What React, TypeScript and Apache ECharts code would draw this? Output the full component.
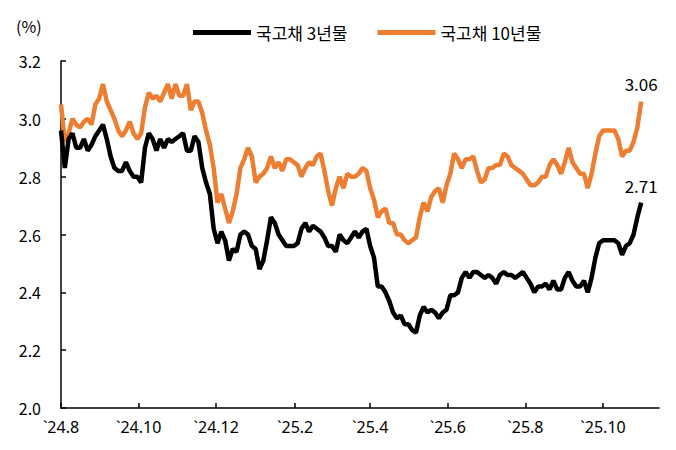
import React, { useEffect, useRef } from 'react';
import * as echarts from 'echarts';

// 3일 간격 관측치 (시작일 2024-08-01 기준 경과일 = index * STEP_DAYS)
const STEP_DAYS = 3;

const ktb10y = [
  3.05, 2.92, 2.95, 3.0, 2.98, 2.97, 2.99, 3.0, 2.98, 3.05,
  3.07, 3.12, 3.06, 3.03, 3.0, 2.96, 2.94, 2.96, 2.99, 2.95,
  2.93, 2.95, 3.04, 3.09, 3.07, 3.08, 3.06, 3.09, 3.12, 3.07,
  3.12, 3.08, 3.08, 3.12, 3.03, 3.06, 3.06, 3.02, 2.96, 2.91,
  2.83, 2.71, 2.74, 2.69, 2.64, 2.68, 2.74, 2.83, 2.86, 2.9,
  2.87, 2.78, 2.8, 2.81, 2.83, 2.87, 2.83, 2.85, 2.82, 2.86,
  2.86, 2.85, 2.84, 2.8, 2.83, 2.85, 2.84, 2.87, 2.88, 2.82,
  2.75, 2.7, 2.76, 2.8, 2.76, 2.81, 2.8, 2.8, 2.81, 2.83,
  2.82, 2.76, 2.72, 2.66, 2.68, 2.69, 2.64, 2.64, 2.6, 2.6,
  2.58, 2.57, 2.58, 2.59, 2.66, 2.71, 2.68, 2.73, 2.75, 2.76,
  2.71, 2.77, 2.81, 2.88, 2.86, 2.83, 2.86, 2.86, 2.87, 2.82,
  2.78, 2.79, 2.83, 2.83, 2.84, 2.84, 2.88, 2.87, 2.84, 2.83,
  2.82, 2.81, 2.79, 2.77, 2.77, 2.78, 2.8, 2.8, 2.84, 2.86,
  2.84, 2.81, 2.85, 2.9, 2.85, 2.83, 2.81, 2.81, 2.76, 2.81,
  2.88, 2.94, 2.96, 2.96, 2.96, 2.96, 2.93, 2.87, 2.89, 2.89,
  2.92, 2.97, 3.06,
];

const ktb3y = [
  2.96, 2.83, 2.93, 2.95, 2.9, 2.9, 2.93, 2.89, 2.91, 2.94,
  2.96, 2.98, 2.93, 2.87, 2.83, 2.82, 2.82, 2.85, 2.82, 2.8,
  2.8, 2.78, 2.9, 2.95, 2.93, 2.89, 2.93, 2.9, 2.93, 2.92,
  2.93, 2.94, 2.95, 2.89, 2.89, 2.94, 2.92, 2.83, 2.78, 2.74,
  2.62, 2.57, 2.61, 2.58, 2.51, 2.55, 2.54, 2.6, 2.61, 2.6,
  2.56, 2.55, 2.48, 2.51, 2.58, 2.66, 2.64, 2.6, 2.58, 2.56,
  2.56, 2.56, 2.57, 2.62, 2.64, 2.61, 2.63, 2.62, 2.61, 2.59,
  2.56, 2.56, 2.54, 2.6, 2.58, 2.57, 2.59, 2.61, 2.59, 2.61,
  2.62, 2.56, 2.52, 2.42, 2.42, 2.4, 2.37, 2.33, 2.31, 2.32,
  2.29, 2.29, 2.27, 2.26, 2.32, 2.35, 2.33, 2.34, 2.33, 2.31,
  2.33, 2.34, 2.39, 2.39, 2.4, 2.45, 2.47, 2.45, 2.47, 2.47,
  2.46, 2.45, 2.46, 2.45, 2.43, 2.46, 2.47, 2.46, 2.46, 2.45,
  2.46, 2.47, 2.45, 2.43, 2.4, 2.42, 2.42, 2.43, 2.41, 2.44,
  2.41, 2.41, 2.45, 2.47, 2.44, 2.42, 2.42, 2.44, 2.4, 2.45,
  2.52, 2.57, 2.58, 2.58, 2.58, 2.58, 2.57, 2.53, 2.56, 2.57,
  2.6, 2.66, 2.71,
];

// 눈금: 2024-08-01 기준 경과일
const tickDays = [0, 61, 122, 184, 243, 304, 365, 426];
const tickLabels = ['`24.8', '`24.10', '`24.12', '`25.2', '`25.4', '`25.6', '`25.8', '`25.10'];
const axisEndDay = 470;

const yTicks = [2.0, 2.2, 2.4, 2.6, 2.8, 3.0, 3.2];

const BLACK = '#000000';
const ORANGE = '#ED7D31';
const FONT = '"Noto Sans CJK KR", "Noto Sans", sans-serif';
const NUM_FONT = '"Noto Sans", "Noto Sans CJK KR", sans-serif';

function toSeries(values: number[]) {
  return values.map((v, i) => {
    const point: any = { value: [i * STEP_DAYS, v] };
    if (i === values.length - 1) {
      point.label = {
        show: true,
        position: 'top',
        distance: 9,
        formatter: v.toFixed(2),
        color: '#000',
        fontSize: 17,
        fontFamily: FONT,
      };
    }
    return point;
  });
}

export default function App() {
  const chartRef = useRef<HTMLDivElement>(null);

  useEffect(() => {
    if (!chartRef.current) return;
    const chart = echarts.init(chartRef.current, undefined, { renderer: 'svg' });

    chart.setOption({
      animation: false,
      backgroundColor: '#fff',
      textStyle: { fontFamily: FONT },
      grid: { left: 61, right: 17, top: 61, bottom: 42, containLabel: false },
      legend: {
        top: 19,
        left: 188,
        itemWidth: 58,
        itemHeight: 5,
        itemGap: 30,
        icon: 'rect',
        textStyle: { fontSize: 17, color: '#000', fontFamily: FONT },
        data: ['국고채 3년물', '국고채 10년물'],
      },
      graphic: [
        {
          type: 'text',
          left: 16,
          top: 18,
          style: { text: '(%)', fontSize: 16, fill: '#000', fontFamily: FONT },
        },
      ],
      xAxis: {
        type: 'value',
        min: 0,
        max: axisEndDay,
        axisLine: { show: true, lineStyle: { color: '#000', width: 1.5 } },
        axisTick: {
          show: true,
          inside: true,
          length: 5,
          customValues: tickDays,
          lineStyle: { color: '#000', width: 1.5 },
        },
        axisLabel: {
          customValues: tickDays,
          margin: 11,
          fontSize: 16,
          color: '#000',
          fontFamily: NUM_FONT,
          formatter: (v: number) => {
            const idx = tickDays.indexOf(v);
            return idx >= 0 ? tickLabels[idx] : '';
          },
        },
        splitLine: { show: false },
      },
      yAxis: {
        type: 'value',
        min: yTicks[0],
        max: yTicks[yTicks.length - 1],
        interval: 0.2,
        axisLine: { show: true, lineStyle: { color: '#000', width: 1.5 } },
        axisTick: { show: true, inside: true, length: 5, lineStyle: { color: '#000', width: 1.5 } },
        axisLabel: {
          margin: 20,
          fontSize: 16,
          color: '#000',
          fontFamily: FONT,
          formatter: (v: number) => v.toFixed(1),
        },
        splitLine: { show: false },
      },
      series: [
        {
          name: '국고채 10년물',
          type: 'line',
          data: toSeries(ktb10y),
          symbol: 'circle',
          symbolSize: 0,
          showSymbol: true,
          showAllSymbol: true,
          lineStyle: { color: ORANGE, width: 4.5 },
          itemStyle: { color: ORANGE },
          z: 2,
        },
        {
          name: '국고채 3년물',
          type: 'line',
          data: toSeries(ktb3y),
          symbol: 'circle',
          symbolSize: 0,
          showSymbol: true,
          showAllSymbol: true,
          lineStyle: { color: BLACK, width: 4.5 },
          itemStyle: { color: BLACK },
          z: 3,
        },
      ],
    });

    return () => {
      chart.dispose();
    };
  }, []);

  return <div ref={chartRef} style={{ width: 676, height: 450, margin: '-8px 0 0 -8px' }} />;
}
